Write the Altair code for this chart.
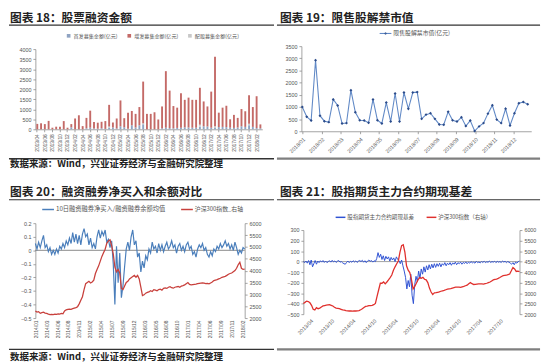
import altair as alt
import pandas as pd

CJK = "Noto Sans CJK SC"
NUM = "Liberation Sans"
ONE = pd.DataFrame({"k": [0]})
FOOT = "数据来源：Wind，兴业证券经济与金融研究院整理"

# ---------------- data: panel 1 (monthly equity financing) ----------------
P1_MONTHS = ["2013/04", "2013/05", "2013/06", "2013/07", "2013/08", "2013/09", "2013/10", "2013/11", "2013/12",
             "2014/01", "2014/02", "2014/03", "2014/04", "2014/05", "2014/06", "2014/07", "2014/08", "2014/09",
             "2014/10", "2014/11", "2014/12", "2015/01", "2015/02", "2015/03", "2015/04", "2015/05", "2015/06",
             "2015/07", "2015/08", "2015/09", "2015/10", "2015/11", "2015/12", "2016/01", "2016/02", "2016/03",
             "2016/04", "2016/05", "2016/06", "2016/07", "2016/08", "2016/09", "2016/10", "2016/11", "2016/12",
             "2017/01", "2017/02", "2017/03", "2017/04", "2017/05", "2017/06", "2017/07", "2017/08", "2017/09",
             "2017/10", "2017/11", "2017/12", "2018/01", "2018/02", "2018/03"]
P1_NAMES = ["首发募集金额(亿元)", "增发募集金额(亿元)", "配股募集金额(亿元)"]
P1_IPO = [0, 0, 0, 0, 0, 0, 0, 0, 0, 100, 0, 0, 0, 50, 80, 40, 30, 50, 20, 80,
          90, 40, 150, 100, 30, 200, 90, 200, 250, 0, 0, 0, 0, 50, 80, 60, 50, 70, 80, 100,
          90, 80, 80, 130, 150, 140, 80, 60, 110, 120, 110, 80, 70, 90, 150, 120, 200, 120, 60, 50]
P1_RIGHTS = [0, 0, 0, 0, 0, 0, 0, 0, 0, 0, 0, 0, 0, 0, 0, 0, 0, 0, 0, 60,
             0, 0, 0, 0, 0, 0, 0, 0, 50, 0, 0, 0, 0, 0, 0, 0, 0, 0, 0, 0,
             0, 0, 0, 100, 0, 0, 0, 90, 0, 0, 0, 0, 0, 0, 0, 0, 80, 0, 0, 0]
P1_PLACEMENT = [270, 300, 260, 420, 80, 130, 130, 410, 80, 160, 540, 700, 160, 520, 850, 320, 300, 325, 390, 1080,
                250, 500, 1290, 455, 800, 715, 680, 910, 2080, 770, 770, 850, 490, 1090, 2820, 1870, 1110, 1010, 1720, 1370,
                1490, 1390, 1390, 1840, 1240, 1000, 1800, 3470, 720, 960, 1065, 420, 650, 480, 860, 780, 1420, 990, 1590, 195]

# ---------------- data: panel 2 (weekly unlock value) ----------------
P2_NAME = "限售股解禁市值(亿元)"
P2_LABELS = ["2018/01", "2018/02", "2018/03", "2018/04", "2018/05", "2018/06",
             "2018/07", "2018/08", "2018/09", "2018/10", "2018/11", "2018/12"]
P2_VALUES = [1000, 600, 440, 2920, 640, 415, 375, 1310, 1060, 320,
             335, 1690, 780, 455, 440, 350, 1310, 455, 320, 1180,
             400, 1555, 400, 1595, 925, 1595, 1610, 510, 685, 740,
             510, 280, 270, 800, 455, 400, 575, 215, 440, 10,
             200, 335, 725, 1070, 480, 335, 925, 240, 740, 1150, 1200, 1110]

# ---------------- data: panel 3 (margin net buy ratio vs CSI300) ----------------
P3_NAMES = ["10日融资融券净买入/融资融券余额均值", "沪深300指数_右轴"]
P3_LABELS = ["2014/01", "2014/03", "2014/06", "2014/08", "2014/11", "2015/02", "2015/04", "2015/07",
             "2015/09", "2015/12", "2016/03", "2016/05", "2016/08", "2016/10", "2017/01", "2017/04",
             "2017/06", "2017/09", "2017/11", "2018/02"]
P3_RATIO = [0.05, 0.01, 0.06, 0.02, 0.07, 0.11, 0.02, 0.04, -0.01, 0.02,
            -0.03, 0.00, -0.03, 0.01, -0.02, 0.03, 0.01, 0.05, 0.02, 0.07,
            0.04, 0.09, 0.05, 0.13, 0.06, 0.12, 0.05, 0.11, 0.04, 0.12,
            0.16, 0.10, 0.12, 0.04, 0.09, 0.02, 0.05, 0.01, 0.10, 0.15,
            0.09, 0.14, 0.11, 0.15, 0.06, 0.08, 0.02, 0.07, -0.10, -0.40,
            0.03, -0.24, -0.02, -0.35, -0.26, -0.12, 0.01, 0.06, 0.00, 0.10,
            0.15, 0.04, 0.07, -0.05, -0.02, -0.16, -0.08, -0.13, -0.04, -0.07,
            0.01, -0.02, 0.06, 0.01, 0.03, -0.02, 0.05, 0.00, 0.04, -0.01,
            0.03, 0.06, 0.01, 0.03, 0.07, 0.02, 0.04, -0.02, 0.03, 0.05,
            0.00, 0.03, -0.01, 0.04, 0.06, 0.01, 0.03, -0.03, -0.01, -0.05,
            0.01, 0.04, 0.02, 0.05, 0.00, 0.02, -0.03, -0.05, -0.01, -0.04,
            0.01, -0.01, 0.03, 0.01, 0.05, 0.02, 0.04, 0.07, 0.03, 0.05,
            0.01, 0.04, 0.00, 0.06, 0.02, -0.03, 0.00, -0.02, 0.02, 0.01]
P3_CSI = [2300, 2250, 2270, 2200, 2230, 2250, 2210, 2200, 2170, 2150,
          2160, 2150, 2170, 2160, 2180, 2170, 2200, 2180, 2300, 2350,
          2370, 2380, 2370, 2400, 2420, 2440, 2480, 2600, 2750, 2900,
          3200, 3450, 3500, 3550, 3480, 3520, 3600, 3880, 4050, 4200,
          4400, 4600, 4750, 4900, 5150, 5250, 5300, 5050, 4700, 4150,
          3950, 4050, 3900, 3250, 3200, 3350, 3500, 3550, 3650, 3700,
          3750, 3800, 3720, 3800, 3650, 3300, 2950, 2980, 3050, 3080,
          3100, 3150, 3120, 3200, 3180, 3150, 3200, 3220, 3180, 3250,
          3270, 3250, 3300, 3320, 3280, 3260, 3300, 3320, 3330, 3300,
          3350, 3370, 3400, 3450, 3500, 3420, 3400, 3410, 3420, 3430,
          3450, 3460, 3470, 3480, 3470, 3450, 3460, 3440, 3480, 3520,
          3580, 3600, 3620, 3650, 3680, 3720, 3740, 3760, 3800, 3850,
          3880, 3900, 3950, 4000, 4100, 4250, 4350, 4100, 4050, 4060]

# ---------------- data: panel 4 (futures basis vs CSI300) ----------------
P4_NAMES = ["股指期货主力合约期现基差", "沪深300指数（右轴）"]
P4_LABELS = ["2013/04", "2013/10", "2014/04", "2014/10", "2015/04", "2015/10",
             "2016/04", "2016/10", "2017/04", "2017/10"]
P4_BASIS = [0, -10, 5, -15, 10, -30, 15, -50, -20, 10, -25, 5, -10, 8, -5, 10, -8, 5, -10, 0,
            8, -5, 12, -3, 6, -8, 4, 10, -5, 0, -12, -20, -25, -8, 5, -10, 3, -6, 8, -4,
            6, -8, 4, 10, 0, 12, -6, 8, -10, 5, 15, 2, 10, -5, 8, 0,
            30, 85, 40, 70, 20, 55, 10, 50, 25, 45, 5, 40, 15, 35, 0, 45, 20, 10, -20, 15,
            -40, -90, -150, -260, -180, -240, -120, -320, -400, -220, -140, -190, -90, -160, -70,
            -120, -50, -100, -40, -80, -30, -70, -25, -60, -20,
            -55, -20, -45, -15, -50, -20, -35, -10, -40, -15, -30, -10, -35, -12, -25, -5, -30, -10, -20, -5,
            -25, -8, -18, -3, -20, -6, -15, 0, -12, -5, -15, 2, -10, -4, -12, 0, -8, 3, -10, -2,
            -6, 4, -8, 0, -5, 3, -10, 2, -6, 0, -8, 4, -4, 2, -10, 0, -6, -15, -25, -10,
            -30, -5, -15, 0, 5]
P4_CSI = [2510, 2560, 2620, 2600, 2540, 2420, 2230, 2200, 2310, 2260,
          2290, 2340, 2390, 2410, 2430, 2440, 2450, 2420, 2390, 2330,
          2290, 2280, 2260, 2230, 2200, 2190, 2170, 2160, 2150, 2150,
          2140, 2150, 2150, 2160, 2170, 2210, 2260, 2320, 2370, 2380,
          2400, 2410, 2420, 2450, 2510, 2850, 3160, 3470, 3470, 3530,
          3440, 3530, 3630, 3740, 3860, 4090, 4250, 4400, 4530, 4950,
          5260, 5300, 4950, 4300, 4090, 3980, 3650, 3200, 3320, 3470,
          3630, 3740, 3710, 3750, 3660, 3630, 3500, 3240, 3050, 2930,
          3010, 3020, 3040, 3060, 3090, 3110, 3130, 3160, 3190, 3200,
          3210, 3240, 3260, 3280, 3290, 3280, 3270, 3300, 3320, 3350,
          3380, 3450, 3500, 3450, 3410, 3420, 3430, 3440, 3440, 3435,
          3430, 3450, 3470, 3500, 3530, 3580, 3630, 3650, 3670, 3700,
          3740, 3790, 3830, 3840, 3850, 3880, 3910, 4060, 4220, 4150,
          4030, 4050, 4020]

# ---------------- helpers ----------------
AX = dict(labelFont=NUM, labelFontSize=5.5, labelColor="#555555", domainColor="#8c8c8c",
          domainWidth=0.8, tickColor="#8c8c8c", tickSize=2.5, tickWidth=0.8, grid=False,
          title=None, labelPadding=2, labelOverlap=False)


def ax(**kw):
    return alt.Axis(**{**AX, **kw})


def hline(x1, x2, y, color, width):
    return alt.Chart(ONE).mark_rule(color=color, strokeWidth=width).encode(
        x=alt.value(x1), x2=alt.value(x2), y=alt.value(y))


def txt(s, x, y, size, weight="normal", color="#222222", baseline="top"):
    return alt.Chart(ONE).mark_text(text=s, align="left", baseline=baseline, fontSize=size,
                                    fontWeight=weight, color=color, font=CJK).encode(
        x=alt.value(x), y=alt.value(y))


def frame(L, R, T, B):
    return [hline(L, R, T, "white", 0.1), hline(L, R, B, "white", 0.1)]


def legend_item(x, y, name, color, size, length=12):
    return [hline(x, x + length, y, color, 1.5),
            txt(name, x + length + 2, y, size, color="#555555", baseline="middle")]


def label_expr(labels, start, step):
    arr = "[" + ",".join("'" + s + "'" for s in labels) + "]"
    return f"{arr}[round((datum.value - {start}) / {step})]"


# ---------------- panel 1 ----------------
rows = []
for i, m in enumerate(P1_MONTHS):
    rows.append({"month": m, "series": P1_NAMES[0], "value": P1_IPO[i], "k": 0})
    rows.append({"month": m, "series": P1_NAMES[2], "value": P1_RIGHTS[i], "k": 1})
    rows.append({"month": m, "series": P1_NAMES[1], "value": P1_PLACEMENT[i], "k": 2})
df1 = pd.DataFrame(rows)

bars1 = alt.Chart(df1).mark_bar().encode(
    x=alt.X("month:O", sort=P1_MONTHS, scale=alt.Scale(paddingInner=0.5, paddingOuter=0.25),
            axis=ax(values=P1_MONTHS[::2], labelAngle=270, labelFontSize=5)),
    y=alt.Y("value:Q", stack="zero", scale=alt.Scale(domain=[0, 4000], range=[85, 3], nice=False),
            axis=ax(values=list(range(0, 4001, 500)), format="d")),
    color=alt.Color("series:N", scale=alt.Scale(domain=P1_NAMES, range=["#8fa3c2", "#c46a67", "#c8c8c8"]),
                    legend=alt.Legend(orient="none", legendX=31, legendY=-14, direction="horizontal",
                                      title=None, symbolType="square", symbolSize=14,
                                      labelFont=CJK, labelFontSize=5.2, labelColor="#555555",
                                      columnPadding=8, labelOffset=2)),
    order=alt.Order("k:Q"),
)
p1 = alt.layer(
    *frame(-27, 244, -34, 142),
    txt("图表 18：股票融资金额", -26, -34, 12, "bold"),
    hline(-27, 244, -21.5, "#333333", 1.2),
    bars1,
    hline(-27, 244, 115, "#333333", 1.5),
    txt(FOOT, -26, 121, 9.7, "bold", baseline="middle"),
).properties(width=232, height=85)

# ---------------- panel 2 ----------------
df2 = pd.DataFrame({"w": list(range(len(P2_VALUES))), "v": P2_VALUES})
P2_STEP = 4.345
P2_TICKS = [round(i * P2_STEP, 3) for i in range(len(P2_LABELS))]
line2 = alt.Chart(df2).mark_line(
    color="#6189c6", strokeWidth=1.1,
    point=alt.OverlayMarkDef(shape="diamond", size=9, filled=True, color="#2b4b8a"),
).encode(
    x=alt.X("w:Q", scale=alt.Scale(domain=[-0.2, 51.8], nice=False, zero=False),
            axis=ax(values=P2_TICKS, labelExpr=label_expr(P2_LABELS, 0, P2_STEP),
                    labelAngle=315, labelFlush=False, labelPadding=3)),
    y=alt.Y("v:Q", scale=alt.Scale(domain=[0, 3500], nice=False),
            axis=ax(values=list(range(0, 3501, 500)), format="d")),
)
leg2 = alt.Chart(ONE).mark_point(shape="diamond", filled=True, size=9, color="#2b4b8a").encode(
    x=alt.value(86), y=alt.value(-13))
p2 = alt.layer(
    *frame(-25, 244, -34, 142),
    txt("图表 19：限售股解禁市值", -22, -34, 12, "bold"),
    hline(-25, 244, -21.5, "#333333", 1.2),
    hline(80, 92, -13, "#6189c6", 1.1), leg2,
    txt(P2_NAME, 94, -13, 6, color="#555555", baseline="middle"),
    line2,
    hline(-25, 244, 115, "#7f7f7f", 2.5),
).properties(width=235, height=87)

# ---------------- panel 3 ----------------
C3 = ["#4a7ebb", "#c8403c"]
n3b, n3r = len(P3_RATIO), len(P3_CSI)
df3b = pd.DataFrame({"t": [i * 50 / (n3b - 1) for i in range(n3b)], "v": P3_RATIO})
df3r = pd.DataFrame({"t": [i * 50 / (n3r - 1) for i in range(n3r)], "v": P3_CSI})
P3_STEP = 2.6
P3_TICKS = [round(i * P3_STEP, 3) for i in range(len(P3_LABELS))]
x3 = alt.X("t:Q", scale=alt.Scale(domain=[0, 50], nice=False, zero=False),
           axis=ax(values=P3_TICKS, labelExpr=label_expr(P3_LABELS, 0, P3_STEP), labelAngle=270,
                   labelFlush=False, domain=False, ticks=False, labelFontSize=5))
zero3 = alt.Chart(ONE).mark_rule(color="#555555", strokeWidth=0.7).encode(
    y=alt.YDatum(0, scale=alt.Scale(domain=[-0.5, 0.2], nice=False, zero=False), axis=None))
blue3 = alt.Chart(df3b).mark_line(strokeWidth=1.2, color=C3[0]).encode(
    x=x3,
    y=alt.Y("v:Q", scale=alt.Scale(domain=[-0.5, 0.2], nice=False, zero=False),
            axis=ax(orient="left", values=[-0.5, -0.4, -0.3, -0.2, -0.1, 0, 0.1, 0.2], format="~g")))
red3 = alt.Chart(df3r).mark_line(strokeWidth=1.3, color=C3[1]).encode(
    x=x3,
    y=alt.Y("v:Q", scale=alt.Scale(domain=[2000, 6000], nice=False, zero=False),
            axis=ax(orient="right", values=list(range(2000, 6001, 500)), format="d")))
p3 = alt.layer(
    *frame(-27, 244, -37, 142),
    txt("图表 20：融资融券净买入和余额对比", -26, -37, 12, "bold"),
    hline(-27, 244, -24, "#333333", 1.2),
    *legend_item(7, -14, P3_NAMES[0], C3[0], 6.4),
    *legend_item(149, -14, P3_NAMES[1], C3[1], 6.0),
    zero3, blue3, red3,
    hline(-27, 244, 129, "#333333", 1.5),
    txt(FOOT, -26, 136.5, 9.7, "bold", baseline="middle"),
).resolve_scale(y="independent").properties(width=214, height=97)

# ---------------- panel 4 ----------------
C4 = ["#2f52d3", "#e0302d"]
n4b, n4r = len(P4_BASIS), len(P4_CSI)
P4_END = 61.5
df4b = pd.DataFrame({"t": [i * P4_END / (n4b - 1) for i in range(n4b)], "v": P4_BASIS})
df4r = pd.DataFrame({"t": [i * P4_END / (n4r - 1) for i in range(n4r)], "v": P4_CSI})
P4_TICKS = [2 + 6 * i for i in range(len(P4_LABELS))]
x4 = alt.X("t:Q", scale=alt.Scale(domain=[0, P4_END], nice=False, zero=False),
           axis=ax(values=P4_TICKS, labelExpr=label_expr(P4_LABELS, 2, 6), labelAngle=315,
                   labelFlush=False, domain=False, ticks=False, labelPadding=4))
Y4_RANGE = [93, 7]
zero4 = alt.Chart(ONE).mark_rule(color="#777777", strokeWidth=0.7).encode(
    y=alt.YDatum(0, scale=alt.Scale(domain=[-500, 300], range=Y4_RANGE, nice=False, zero=False), axis=None))
blue4 = alt.Chart(df4b).mark_line(strokeWidth=1.0, color=C4[0]).encode(
    x=x4,
    y=alt.Y("v:Q", scale=alt.Scale(domain=[-500, 300], range=Y4_RANGE, nice=False, zero=False),
            axis=ax(orient="left", values=list(range(-500, 301, 100)), format="d")))
red4 = alt.Chart(df4r).mark_line(strokeWidth=1.3, color=C4[1]).encode(
    x=x4,
    y=alt.Y("v:Q", scale=alt.Scale(domain=[2000, 6000], range=Y4_RANGE, nice=False, zero=False),
            axis=ax(orient="right", values=list(range(2000, 6001, 500)), format="d")))
p4 = alt.layer(
    *frame(-27, 242, -37, 142),
    txt("图表 21：股指期货主力合约期现基差", -24, -37, 12, "bold"),
    hline(-27, 242, -24, "#333333", 1.2),
    *legend_item(33, -6, P4_NAMES[0], C4[0], 5.7, length=10),
    *legend_item(126, -6, P4_NAMES[1], C4[1], 5.6, length=10),
    zero4, blue4, red4,
    hline(-27, 242, 129, "#7f7f7f", 2.5),
).resolve_scale(y="independent").properties(width=221, height=93)

row1 = alt.hconcat(p1, p2, spacing=0).resolve_scale(color="independent")
row2 = alt.hconcat(p3, p4, spacing=0)
chart = alt.vconcat(row1, row2, spacing=0).resolve_scale(color="independent").properties(
    padding=0).configure(background="white", font=CJK).configure_view(stroke=None)

chart.save("out.html", embed_options={"renderer": "svg", "actions": False})
